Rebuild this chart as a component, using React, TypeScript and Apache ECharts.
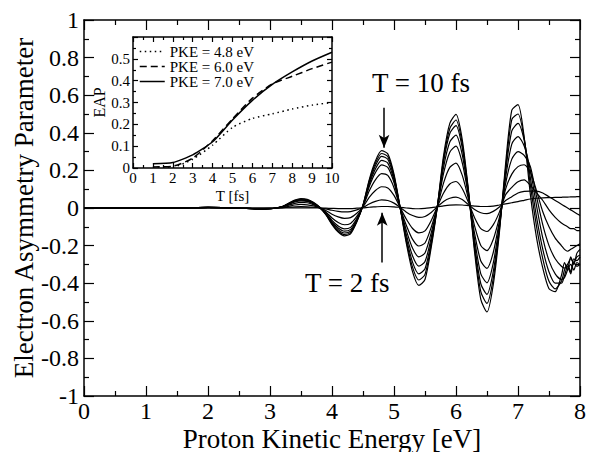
import { useEffect, useRef } from "react";
import * as echarts from "echarts";

const FONT = "Liberation Serif";

// Main plot: proton kinetic energy grid [eV]
const energy = [
  0, 0.5, 1, 1.5, 2, 2.5, 2.8, 3.0,
  3.1, 3.2, 3.3, 3.4, 3.5, 3.6, 3.7, 3.8,
  3.9, 4.0, 4.1, 4.2, 4.3, 4.4,
  4.5, 4.6, 4.7, 4.8, 4.9, 5.0,
  5.1, 5.2, 5.3, 5.4, 5.5, 5.6,
  5.7, 5.8, 5.9, 6.0, 6.1, 6.2,
  6.3, 6.4, 6.5, 6.6, 6.7,
  6.8, 6.9, 7.0, 7.1,
  7.2, 7.3, 7.4, 7.5, 7.6, 7.7,
  7.75, 7.8, 7.85, 7.9, 7.95, 8.0,
];

// Electron asymmetry parameter for pulse durations T = 2 ... 10 fs
const eapT2 = [
  0, 0, 0, 0, 0, 0, 0, 0,
  0, 0, 0.001, 0.001, 0.001, 0.001, 0.001, 0,
  -0.001, -0.002, -0.003, -0.003, -0.003, -0.001,
  0.001, 0.004, 0.006, 0.008, 0.008, 0.006,
  0.003, 0, -0.003, -0.004, -0.002, 0.002,
  0.006, 0.011, 0.015, 0.017, 0.016, 0.013,
  0.01, 0.008, 0.008, 0.01, 0.016,
  0.022, 0.028, 0.034, 0.041,
  0.048, 0.052, 0.054, 0.055, 0.056, 0.057,
  0.058, 0.058, 0.059, 0.059, 0.06, 0.06,
];
const eapT3 = [
  0, 0, 0, 0, 0.001, 0, -0.001, -0.001,
  0, 0.001, 0.004, 0.006, 0.007, 0.006, 0.004, 0.001,
  -0.005, -0.012, -0.018, -0.021, -0.019, -0.01,
  0.003, 0.021, 0.035, 0.043, 0.04, 0.026,
  0.003, -0.022, -0.04, -0.05, -0.045, -0.024,
  0.007, 0.035, 0.052, 0.058, 0.045, 0.018,
  -0.008, -0.025, -0.03, -0.018, 0.005,
  0.04, 0.06, 0.08, 0.088,
  0.09, 0.09, 0.08, 0.06, 0.04, 0.02,
  0.01, 0, -0.01, -0.02, -0.03, -0.04,
];
const eapT4 = [
  0, 0, 0, 0, 0.002, 0, -0.003, -0.002,
  0, 0.003, 0.009, 0.016, 0.019, 0.017, 0.011, 0.001,
  -0.013, -0.033, -0.047, -0.055, -0.051, -0.028,
  0.006, 0.056, 0.093, 0.113, 0.107, 0.067,
  0.002, -0.06, -0.109, -0.132, -0.122, -0.067,
  0.008, 0.08, 0.128, 0.141, 0.104, 0.03,
  -0.052, -0.11, -0.125, -0.09, -0.022,
  0.07, 0.11, 0.14, 0.15,
  0.12, 0.08, 0.04, -0.01, -0.05, -0.08,
  -0.09, -0.1, -0.11, -0.11, -0.12, -0.12,
];
const eapT5 = [
  0, 0, 0, 0, 0.003, 0, -0.005, -0.004,
  0, 0.005, 0.015, 0.025, 0.03, 0.028, 0.018, 0.002,
  -0.021, -0.053, -0.077, -0.089, -0.082, -0.045,
  0.009, 0.09, 0.15, 0.183, 0.173, 0.108,
  0.0, -0.093, -0.167, -0.202, -0.186, -0.103,
  0.008, 0.134, 0.216, 0.239, 0.175, 0.048,
  -0.096, -0.199, -0.227, -0.168, -0.05,
  0.1, 0.18, 0.22, 0.23,
  0.19, 0.09, -0.02, -0.1, -0.16, -0.2,
  -0.22, -0.23, -0.22, -0.21, -0.2, -0.19,
];
const eapT6 = [
  0, 0, 0, 0, 0.003, 0, -0.005, -0.004,
  0, 0.006, 0.019, 0.032, 0.038, 0.035, 0.023, 0.003,
  -0.026, -0.066, -0.096, -0.111, -0.103, -0.056,
  0.011, 0.113, 0.188, 0.229, 0.216, 0.135,
  0.0, -0.12, -0.214, -0.26, -0.239, -0.132,
  0.01, 0.185, 0.297, 0.329, 0.241, 0.066,
  -0.136, -0.282, -0.321, -0.238, -0.07,
  0.13, 0.26, 0.3, 0.28,
  0.22, 0.06, -0.09, -0.2, -0.27, -0.31,
  -0.32, -0.3, -0.27, -0.29, -0.26, -0.25,
];
const eapT7 = [
  0, 0, 0, 0, 0.003, 0, -0.005, -0.004,
  0, 0.007, 0.021, 0.035, 0.042, 0.038, 0.025, 0.003,
  -0.029, -0.073, -0.106, -0.123, -0.114, -0.062,
  0.012, 0.125, 0.208, 0.253, 0.239, 0.149,
  0.0, -0.143, -0.255, -0.309, -0.285, -0.158,
  0.01, 0.218, 0.351, 0.388, 0.285, 0.076,
  -0.167, -0.35, -0.398, -0.295, -0.09,
  0.16, 0.34, 0.38, 0.33,
  0.2, 0.01, -0.16, -0.28, -0.35, -0.38,
  -0.37, -0.33, -0.3, -0.33, -0.29, -0.3,
];
const eapT8 = [
  0, 0, 0, 0, 0.003, 0, -0.005, -0.004,
  0, 0.007, 0.023, 0.038, 0.045, 0.041, 0.027, 0.004,
  -0.032, -0.079, -0.115, -0.133, -0.123, -0.068,
  0.014, 0.135, 0.225, 0.275, 0.259, 0.162,
  0.0, -0.162, -0.289, -0.35, -0.323, -0.179,
  0.01, 0.246, 0.396, 0.438, 0.321, 0.085,
  -0.195, -0.403, -0.459, -0.34, -0.105,
  0.19, 0.41, 0.45, 0.36,
  0.16, -0.05, -0.22, -0.34, -0.4, -0.4,
  -0.36, -0.31, -0.35, -0.29, -0.31, -0.3,
];
const eapT9 = [
  0, 0, 0, 0, 0.003, 0, -0.005, -0.004,
  0, 0.008, 0.024, 0.04, 0.048, 0.044, 0.028, 0.004,
  -0.033, -0.084, -0.122, -0.141, -0.13, -0.071,
  0.014, 0.143, 0.238, 0.29, 0.274, 0.171,
  0.0, -0.177, -0.316, -0.383, -0.353, -0.195,
  0.01, 0.263, 0.423, 0.468, 0.343, 0.09,
  -0.215, -0.445, -0.507, -0.376, -0.118,
  0.21, 0.47, 0.5, 0.37,
  0.12, -0.1, -0.27, -0.39, -0.43, -0.39,
  -0.33, -0.3, -0.34, -0.27, -0.28, -0.26,
];
const eapT10 = [
  0, 0, 0, 0, 0.003, 0, -0.005, -0.004,
  0, 0.008, 0.025, 0.042, 0.05, 0.046, 0.03, 0.004,
  -0.035, -0.088, -0.128, -0.148, -0.137, -0.075,
  0.015, 0.15, 0.25, 0.305, 0.288, 0.18,
  0.0, -0.19, -0.34, -0.412, -0.38, -0.21,
  0.01, 0.28, 0.45, 0.498, 0.365, 0.095,
  -0.235, -0.486, -0.553, -0.41, -0.13,
  0.235, 0.52, 0.55, 0.375,
  0.07, -0.16, -0.32, -0.43, -0.445, -0.36,
  -0.29, -0.33, -0.26, -0.3, -0.24, -0.22,
];
const mainCurves = [
  { name: "T = 2 fs", values: eapT2 },
  { name: "T = 3 fs", values: eapT3 },
  { name: "T = 4 fs", values: eapT4 },
  { name: "T = 5 fs", values: eapT5 },
  { name: "T = 6 fs", values: eapT6 },
  { name: "T = 7 fs", values: eapT7 },
  { name: "T = 8 fs", values: eapT8 },
  { name: "T = 9 fs", values: eapT9 },
  { name: "T = 10 fs", values: eapT10 },
];

// Inset: EAP vs pulse duration at fixed PKE
const pulseT = [1, 2, 3, 4, 5, 6, 7, 8, 9, 10];
const pke48 = [0.005, 0.005, 0.04, 0.105, 0.186, 0.227, 0.248, 0.27, 0.288, 0.3];
const pke60 = [0.005, 0.008, 0.045, 0.125, 0.225, 0.32, 0.385, 0.42, 0.455, 0.485];
const pke70 = [0.02, 0.025, 0.06, 0.12, 0.22, 0.31, 0.383, 0.44, 0.49, 0.53];
const insetNames = ["PKE = 4.8 eV", "PKE = 6.0 eV", "PKE = 7.0 eV"];

// Main tick labels
const mainXTicks = [0, 1, 2, 3, 4, 5, 6, 7, 8];
const mainYTicks = [-1, -0.8, -0.6, -0.4, -0.2, 0, 0.2, 0.4, 0.6, 0.8, 1];
const mainXName = "Proton Kinetic Energy [eV]";
const mainYName = "Electron Asymmetry Parameter";

// Annotation arrows (data coordinates: energy, EAP start -> tip)
const arrowT10 = [4.84, 0.533, 0.32];
const arrowT2 = [4.81, -0.29, -0.025];
const annotationTexts = ["T = 10 fs", "T = 2 fs"];

const mainX = [0, 8, 1];
const mainY = [-1, 1, 0.2];
const insetX = [0, 10, 1];
const insetY = [0, 0.6, 0.1];

function axisBase(range: number[], gridIndex: number, tickLen: number, minorLen: number) {
  return {
    type: "value" as const,
    gridIndex,
    min: range[0],
    max: range[1],
    interval: range[2],
    axisLine: { show: true, onZero: false, lineStyle: { color: "#000", width: 1.5 } },
    axisTick: { show: true, inside: true, length: tickLen, lineStyle: { color: "#000", width: 1.2 } },
    minorTick: { show: true, splitNumber: 2, length: minorLen, lineStyle: { color: "#000", width: 1.2 } },
    splitLine: { show: false },
    axisLabel: { show: false },
  };
}

const fmt = (v: number) => String(Number(v.toFixed(2)));

export default function App() {
  const ref = useRef<HTMLDivElement>(null);
  useEffect(() => {
    const chart = echarts.init(ref.current!, null, { renderer: "svg" });
    const lineSeries: any[] = mainCurves.map((c, k) => ({
      type: "line",
      name: c.name,
      xAxisIndex: 0,
      yAxisIndex: 0,
      data: energy.map((e, i) => [e, c.values[i]]),
      symbol: "none",
      smooth: 0.25,
      lineStyle: { color: "#000", width: 1.2 },
      z: 3,
      markLine:
        k === mainCurves.length - 1
          ? {
              silent: true,
              animation: false,
              symbol: ["none", "arrow"],
              symbolSize: [8, 13],
              label: { show: false },
              lineStyle: { color: "#000", width: 1.5, type: "solid" },
              data: [
                [{ coord: [arrowT10[0], arrowT10[1]] }, { coord: [arrowT10[0], arrowT10[2]] }],
                [{ coord: [arrowT2[0], arrowT2[1]] }, { coord: [arrowT2[0], arrowT2[2]] }],
              ],
            }
          : undefined,
    }));
    const insetData = [pke48, pke60, pke70];
    const insetDash: any[] = [[1.5, 3.5], [7, 4], "solid"];
    insetData.forEach((vals, k) => {
      lineSeries.push({
        type: "line",
        name: insetNames[k],
        xAxisIndex: 2,
        yAxisIndex: 2,
        data: pulseT.map((t, i) => [t, vals[i]]),
        symbol: "none",
        smooth: 0.2,
        lineStyle: { color: "#000", width: 1.5, type: insetDash[k] },
        itemStyle: { color: "#000" },
        z: 6,
      });
    });

    const option: any = {
      animation: false,
      backgroundColor: "#fff",
      grid: [
        { left: 84, top: 20, width: 496, height: 376, show: false },
        { left: 133, top: 37, width: 199, height: 131, show: true, backgroundColor: "#fff", borderWidth: 0, z: 4 },
      ],
      xAxis: [
        { ...axisBase(mainX, 0, 10, 5), position: "bottom" },
        { ...axisBase(mainX, 0, 10, 5), position: "top" },
        {
          ...axisBase(insetX, 1, 5, 3),
          position: "bottom",
          name: "T [fs]",
          nameLocation: "middle",
          nameGap: 20,
          nameTextStyle: { fontSize: 15, fontFamily: FONT, color: "#000" },
          axisLabel: { show: true, fontSize: 15, fontFamily: FONT, color: "#000", margin: 2, formatter: fmt },
          z: 5,
        },
        { ...axisBase(insetX, 1, 5, 3), position: "top", z: 5 },
      ],
      yAxis: [
        { ...axisBase(mainY, 0, 10, 5), position: "left" },
        { ...axisBase(mainY, 0, 10, 5), position: "right" },
        {
          ...axisBase(insetY, 1, 5, 3),
          position: "left",
          name: "EAP",
          nameLocation: "middle",
          nameGap: 24,
          nameTextStyle: { fontSize: 16, fontFamily: FONT, color: "#000" },
          axisLabel: {
            show: true,
            fontSize: 15,
            fontFamily: FONT,
            color: "#000",
            margin: 3,
            formatter: (v: number) => (v > 0.55 ? "" : fmt(v)),
          },
          z: 5,
        },
        { ...axisBase(insetY, 1, 5, 3), position: "right", z: 5 },
      ],
      legend: {
        data: insetNames,
        orient: "vertical",
        left: 139,
        top: 44,
        padding: 0,
        itemGap: 0,
        itemWidth: 25,
        itemHeight: 15,
        selectedMode: false,
        itemStyle: { opacity: 0 },
        lineStyle: { width: 1.5 },
        textStyle: { fontSize: 15, fontFamily: FONT, color: "#000" },
        z: 7,
      },
      series: lineSeries,
    };
    chart.setOption(option);

    // Main-axis texts placed through the axes' own scales (font shorthand renders the serif face reliably)
    const xPix = (v: number) => chart.convertToPixel({ xAxisIndex: 0 }, v) as number;
    const yPix = (v: number) => chart.convertToPixel({ yAxisIndex: 0 }, v) as number;
    const left = xPix(mainX[0]);
    const right = xPix(mainX[1]);
    const bottom = yPix(mainY[0]);
    const top = yPix(mainY[1]);
    const big = `24px ${FONT}`;
    const g: any[] = [];
    mainXTicks.forEach((v) => {
      g.push({
        type: "text",
        x: xPix(v),
        y: bottom + 3,
        style: { text: fmt(v), font: big, fill: "#000", align: "center", verticalAlign: "top" },
      });
    });
    mainYTicks.forEach((v) => {
      g.push({
        type: "text",
        x: left - 5,
        y: yPix(v),
        style: { text: fmt(v), font: big, fill: "#000", align: "right", verticalAlign: "middle" },
      });
    });
    g.push({
      type: "text",
      x: (left + right) / 2,
      y: bottom + 29,
      style: { text: mainXName, font: `27px ${FONT}`, fill: "#000", align: "center", verticalAlign: "top" },
    });
    g.push({
      type: "text",
      x: left - 60,
      y: (top + bottom) / 2,
      rotation: Math.PI / 2,
      style: { text: mainYName, font: `27px ${FONT}`, fill: "#000", align: "center", verticalAlign: "middle" },
    });
    g.push({
      type: "text",
      left: 372,
      top: 69,
      style: { text: annotationTexts[0], font: `27px ${FONT}`, fill: "#000" },
    });
    g.push({
      type: "text",
      left: 305,
      top: 269,
      style: { text: annotationTexts[1], font: `27px ${FONT}`, fill: "#000" },
    });
    chart.setOption({ graphic: g });
    return () => chart.dispose();
  }, []);
  return (
    <div
      ref={ref}
      style={{ position: "fixed", left: 0, top: 0, width: 589, height: 452, background: "#fff" }}
    />
  );
}
